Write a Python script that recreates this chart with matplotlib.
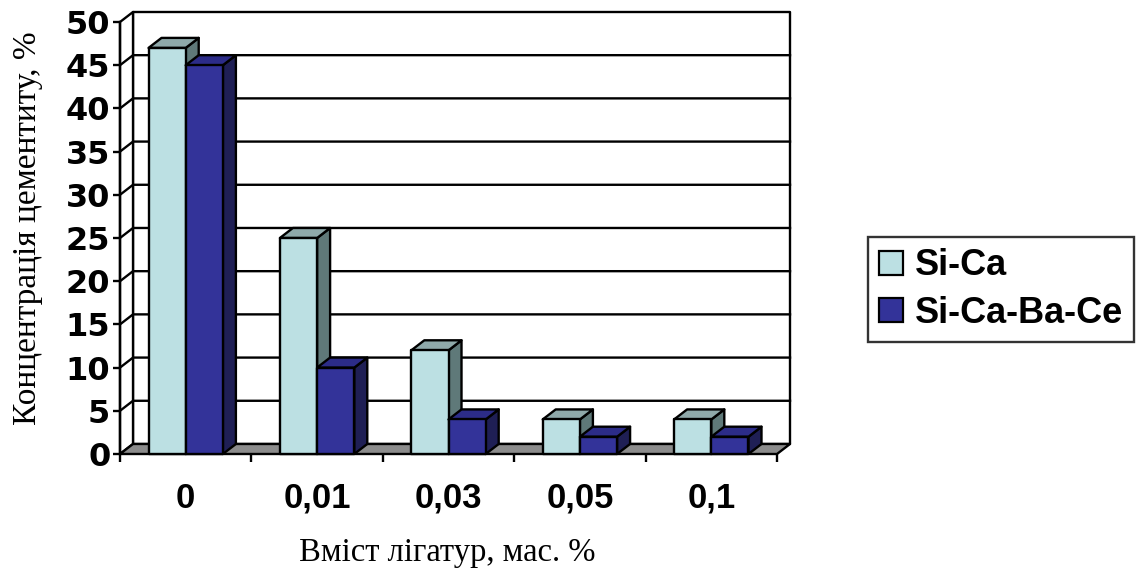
import matplotlib
matplotlib.use("Agg")
import matplotlib.pyplot as plt
from matplotlib.patches import Polygon
from matplotlib.lines import Line2D

categories = ["0", "0,01", "0,03", "0,05", "0,1"]
si_ca = [47, 25, 12, 4, 4]
si_ca_ba_ce = [45, 10, 4, 2, 2]
series_names = ["Si-Ca", "Si-Ca-Ba-Ce"]
yticks = list(range(0, 51, 5))

# face colours: front, top, side
face_colors = [
    ("#BCE0E3", "#8FA9AA", "#5F7979"),
    ("#333399", "#2C2C88", "#1F1F55"),
]
floor_color = "#8C8C8C"

# oblique depth offset in data units
dx, dy = 0.099, 1.16
bar_w = 0.283
lw = 1.7

W, H = 1138, 571
fig = plt.figure(figsize=(W / 100, H / 100), dpi=100)
ax = fig.add_axes([120 / W, 117 / H, 657 / W, 432 / H])
ax.set_xlim(0, len(categories))
ax.set_ylim(0, 50)
ax.set_facecolor("none")


def poly(pts, fc, z):
    ax.add_patch(Polygon(pts, closed=True, facecolor=fc, edgecolor="black",
                         linewidth=lw, joinstyle="round", clip_on=False, zorder=z))


n = len(categories)
ymax = yticks[-1]

# walls
poly([(dx, dy), (n + dx, dy), (n + dx, ymax + dy), (dx, ymax + dy)], "white", 1)
poly([(0, 0), (dx, dy), (dx, ymax + dy), (0, ymax)], "white", 1)
for v in yticks[1:-1]:
    ax.plot([0, dx, n + dx], [v, v + dy, v + dy], color="black", lw=lw,
            clip_on=False, zorder=1.5)

# floor
poly([(0, 0), (n, 0), (n + dx, dy), (dx, dy)], floor_color, 2)

# bars
z = 3
for i in range(n):
    vals = [si_ca[i], si_ca_ba_ce[i]]
    for j, v in enumerate(vals):
        front, top, side = face_colors[j]
        x0 = i + 0.5 - bar_w + j * bar_w
        x1 = x0 + bar_w
        poly([(x1, 0), (x1 + dx, dy), (x1 + dx, v + dy), (x1, v)], side, z)
        poly([(x0, v), (x1, v), (x1 + dx, v + dy), (x0 + dx, v + dy)], top, z)
        poly([(x0, 0), (x1, 0), (x1, v), (x0, v)], front, z)
        z += 1

# axes and ticks
for s in ["top", "right", "bottom"]:
    ax.spines[s].set_visible(False)
ax.spines["left"].set_linewidth(lw)
ax.spines["left"].set_zorder(20)

ax.set_yticks(yticks)
ax.set_yticklabels([str(v) for v in yticks], fontfamily="DejaVu Sans",
                   fontweight="bold", fontsize=23)
ax.tick_params(axis="y", direction="out", length=5, width=lw, pad=2)

ax.set_xticks(range(n + 1))
ax.set_xticklabels([])
ax.tick_params(axis="x", which="major", direction="out", length=6, width=lw)
ax.set_xticks([i + 0.5 for i in range(n)], minor=True)
ax.set_xticklabels(categories, minor=True, fontfamily="Liberation Sans",
                   fontweight="bold", fontsize=25)
ax.tick_params(axis="x", which="minor", length=0, pad=20)

fig.text(28 / W, 1 - 228 / H, "Концентрація цементиту, %", rotation=90,
         ha="center", va="center", fontfamily="Liberation Serif", fontsize=24)
fig.text(447 / W, 1 - 553 / H, "Вміст лігатур, мас. %", ha="center",
         va="center", fontfamily="Liberation Serif", fontsize=23.5)

handles = [Line2D([], [], linestyle="none", marker="s", markersize=17,
                  markerfacecolor=face_colors[k][0], markeredgecolor="black",
                  markeredgewidth=1.6) for k in range(2)]
leg = fig.legend(handles, series_names, loc="center left",
                 bbox_to_anchor=(868 / W, 1 - 289.5 / H),
                 prop={"family": "Liberation Sans", "weight": "bold", "size": 26},
                 frameon=True, fancybox=False, edgecolor="black",
                 borderpad=0.3, labelspacing=0.35, handlelength=0.7,
                 handletextpad=0.3, borderaxespad=0)
leg.get_frame().set_linewidth(lw)

fig.savefig("out.png", dpi=100)
